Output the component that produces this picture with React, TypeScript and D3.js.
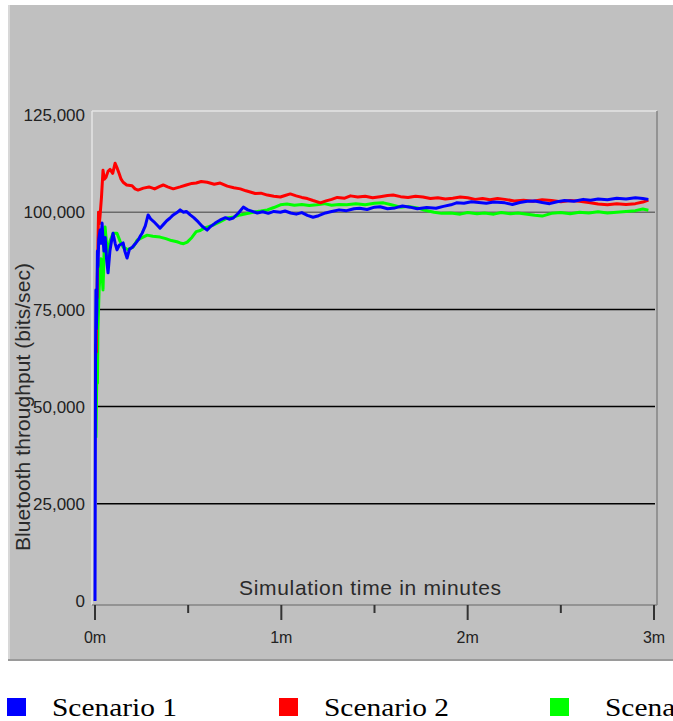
import React from 'react';
import * as d3 from 'd3';

// axis values
const yTicks = [0, 25000, 50000, 75000, 100000, 125000];
const xMajorTicks = [0, 1, 2, 3];
const xMinorTicks = [0.5, 1.5, 2.5];

const seriesNames = ['Scenario 1', 'Scenario 2', 'Scenario 3'];
const seriesColors = ['#0000ff', '#ff0000', '#00ff00'];

// [time in minutes, throughput in bits/sec]
const scenario1: [number, number][] = [
  [0, 0], [0.003, 65000], [0.005, 80000], [0.007, 70000], [0.01, 75000], [0.013, 90000],
  [0.016, 86000], [0.02, 93000], [0.027, 95400], [0.032, 92000], [0.038, 97200],
  [0.043, 93000], [0.048, 90000], [0.055, 93500], [0.062, 88000], [0.07, 84400],
  [0.08, 90000], [0.09, 93000], [0.097, 94600], [0.108, 92000], [0.118, 90300],
  [0.13, 91500], [0.151, 92100], [0.16, 90000], [0.172, 88200], [0.185, 90500],
  [0.199, 90900], [0.215, 91800], [0.231, 92800], [0.245, 94000], [0.253, 94600],
  [0.27, 96500], [0.285, 99300], [0.3, 98200], [0.315, 97600], [0.333, 96700],
  [0.349, 95900], [0.37, 97000], [0.385, 97800], [0.403, 98500], [0.42, 99300],
  [0.44, 99900], [0.457, 100600], [0.475, 100000], [0.49, 100200], [0.511, 99300],
  [0.53, 98600], [0.554, 97500], [0.575, 96400], [0.602, 95400], [0.62, 96300],
  [0.645, 97200], [0.672, 98000], [0.7, 98600], [0.72, 98200], [0.742, 98500],
  [0.77, 99800], [0.796, 101300], [0.82, 100600], [0.845, 100200], [0.871, 99800],
  [0.9, 100100], [0.93, 99700], [0.96, 100200], [0.995, 100000], [1.02, 100300],
  [1.05, 99800], [1.08, 99500], [1.11, 99900], [1.14, 99200], [1.17, 98700],
  [1.2, 99100], [1.237, 99800], [1.27, 100200], [1.31, 100600], [1.35, 100400],
  [1.39, 100900], [1.42, 101000], [1.46, 100700], [1.5, 101300], [1.53, 101400],
  [1.57, 100900], [1.61, 101100], [1.65, 101600], [1.69, 101300], [1.73, 100900],
  [1.78, 101200], [1.83, 101000], [1.87, 101500], [1.91, 101900], [1.94, 102400],
  [1.98, 102300], [2.02, 102700], [2.06, 102500], [2.1, 102300], [2.14, 102600],
  [2.2, 102400], [2.24, 102000], [2.28, 102500], [2.32, 102800], [2.36, 102900],
  [2.4, 102500], [2.44, 102200], [2.48, 102700], [2.52, 103000], [2.57, 102800],
  [2.62, 103300], [2.66, 103100], [2.7, 103400], [2.75, 103200], [2.8, 103600],
  [2.85, 103400], [2.9, 103700], [2.94, 103500], [2.97, 103300],
];

const scenario2: [number, number][] = [
  [0.003, 62000], [0.005, 66000], [0.007, 64000], [0.008, 80000], [0.011, 78000],
  [0.013, 84000], [0.016, 92000], [0.019, 100000], [0.023, 97000], [0.027, 99000],
  [0.035, 104000], [0.043, 110800], [0.05, 108500], [0.059, 109000], [0.07, 110500],
  [0.081, 111000], [0.095, 110000], [0.108, 112600], [0.12, 111200], [0.129, 110000],
  [0.14, 108500], [0.151, 107700], [0.17, 107000], [0.199, 106800], [0.215, 106000],
  [0.231, 105700], [0.26, 106200], [0.29, 106500], [0.32, 106000], [0.345, 106600],
  [0.366, 107000], [0.39, 106500], [0.42, 106000], [0.457, 106500], [0.49, 107000],
  [0.52, 107400], [0.543, 107500], [0.57, 107900], [0.602, 107700], [0.64, 107200],
  [0.672, 107500], [0.71, 106700], [0.745, 106300], [0.78, 106000], [0.81, 105500],
  [0.833, 105200], [0.86, 104800], [0.89, 104900], [0.925, 104400], [0.96, 104100],
  [0.995, 103900], [1.02, 104300], [1.048, 104700], [1.08, 104200], [1.11, 103800],
  [1.14, 103500], [1.17, 103000], [1.21, 102400], [1.24, 102900], [1.27, 103300],
  [1.3, 103800], [1.34, 103600], [1.371, 104200], [1.41, 103900], [1.45, 104100],
  [1.49, 103700], [1.53, 104000], [1.57, 104300], [1.6, 104400], [1.64, 104000],
  [1.68, 103800], [1.72, 104100], [1.76, 103900], [1.8, 103500], [1.84, 103700],
  [1.88, 103400], [1.92, 103600], [1.96, 103900], [2.0, 103700], [2.04, 103300],
  [2.08, 103500], [2.12, 103200], [2.16, 103500], [2.2, 103300], [2.25, 102900],
  [2.3, 103100], [2.35, 102800], [2.4, 103200], [2.45, 103000], [2.5, 102700],
  [2.55, 103000], [2.6, 102800], [2.65, 102500], [2.7, 102100], [2.75, 101900],
  [2.8, 102200], [2.85, 102000], [2.9, 102200], [2.94, 102600], [2.97, 103100],
];

const scenario3: [number, number][] = [
  [0.005, 42000], [0.008, 52000], [0.01, 58000], [0.013, 56000], [0.016, 70000],
  [0.022, 80000], [0.027, 84000], [0.032, 88000], [0.038, 84000], [0.043, 80000],
  [0.049, 90000], [0.054, 96200], [0.062, 92000], [0.07, 89000], [0.08, 92500],
  [0.097, 94600], [0.118, 94600], [0.135, 92500], [0.151, 91000], [0.175, 90400],
  [0.204, 91000], [0.226, 92800], [0.25, 93400], [0.28, 94100], [0.31, 93800],
  [0.349, 93600], [0.38, 93200], [0.41, 92700], [0.44, 92400], [0.457, 92100],
  [0.475, 91900], [0.495, 92300], [0.52, 93500], [0.543, 95000], [0.565, 95300],
  [0.586, 95900], [0.61, 96300], [0.634, 96700], [0.67, 97500], [0.71, 98500],
  [0.745, 98800], [0.78, 99300], [0.81, 99600], [0.849, 100000], [0.89, 100300],
  [0.925, 100600], [0.96, 101200], [0.995, 101900], [1.03, 102100], [1.07, 101800],
  [1.11, 102000], [1.15, 101700], [1.19, 101900], [1.23, 102200], [1.27, 101800],
  [1.31, 102000], [1.35, 101900], [1.4, 102200], [1.45, 101900], [1.5, 102300],
  [1.548, 102400], [1.59, 101900], [1.64, 101300], [1.68, 101500], [1.73, 101100],
  [1.77, 100500], [1.82, 100000], [1.86, 99700], [1.91, 99800], [1.96, 99500],
  [2.0, 99900], [2.05, 99600], [2.09, 99800], [2.14, 99500], [2.18, 99900],
  [2.23, 99600], [2.27, 99800], [2.32, 99500], [2.36, 99200], [2.4, 99000],
  [2.45, 99700], [2.5, 99900], [2.55, 99600], [2.6, 100000], [2.65, 99800],
  [2.7, 100100], [2.75, 99800], [2.8, 100000], [2.85, 100200], [2.9, 100400],
  [2.94, 100800], [2.97, 100500],
];

const seriesData = [scenario1, scenario2, scenario3];

const W = 673;
const H = 721;

// legend layout (square x, label x)
const legendSquareX = [7, 279, 550];
const legendTextX = [52, 324, 605];

const App: React.FC = () => {
  const x = d3.scaleLinear().domain([0, 3]).range([95, 654]);
  const y = d3.scaleLinear().domain([0, 125000]).range([601, 115]);
  const line = d3.line<[number, number]>()
    .x(d => x(d[0]))
    .y(d => y(d[1]));
  const fmt = d3.format(',');

  // plot frame
  const left = 92, right = 657, top = 111, bottom = 605;

  // draw order: green under red under blue
  const order = [2, 1, 0];

  return (
    <svg
      width={W}
      height={H}
      style={{ position: 'absolute', left: 0, top: 0, background: '#fff' }}
      fontFamily="Liberation Sans, Arial, sans-serif"
    >
      {/* outer panel */}
      <rect x={8} y={5} width={W - 8} height={655} fill="#c0c0c0" />
      <line x1={9} x2={9} y1={5} y2={660} stroke="#d8d8d8" strokeWidth={2} />
      <line x1={8} x2={W} y1={660} y2={660} stroke="#9a9a9a" strokeWidth={2} />

      {/* plot frame */}
      <line x1={left} x2={right} y1={top} y2={top} stroke="#e4e4e4" strokeWidth={1.5} />
      <line x1={left} x2={left} y1={top} y2={bottom} stroke="#e4e4e4" strokeWidth={1.5} />
      <line x1={right} x2={right} y1={top} y2={bottom} stroke="#858585" strokeWidth={1.5} />
      <line x1={left} x2={right} y1={bottom} y2={bottom} stroke="#858585" strokeWidth={1.5} />

      {/* gridlines */}
      {yTicks.filter(v => v > 0 && v < 125000).map(v => (
        <line
          key={v}
          x1={97}
          x2={655}
          y1={y(v)}
          y2={y(v)}
          stroke={v === 100000 ? '#6a6a6a' : '#000'}
          strokeWidth={1.5}
        />
      ))}

      {/* y tick labels */}
      {yTicks.map(v => (
        <text
          key={v}
          x={85}
          y={y(v)}
          dy="0.36em"
          textAnchor="end"
          fontSize={17}
          fill="#222"
        >
          {fmt(v)}
        </text>
      ))}

      {/* x ticks */}
      {xMajorTicks.map(t => (
        <g key={t}>
          <line x1={x(t)} x2={x(t)} y1={bottom} y2={620} stroke="#333" strokeWidth={2} />
          <text x={x(t)} y={643} textAnchor="middle" fontSize={16} fill="#222">{`${t}m`}</text>
        </g>
      ))}
      {xMinorTicks.map(t => (
        <line key={t} x1={x(t)} x2={x(t)} y1={bottom} y2={613} stroke="#333" strokeWidth={2} />
      ))}

      {/* axis titles */}
      <text x={370} y={595} textAnchor="middle" fontSize={21} fill="#2a2a2a" textLength={262}>
        Simulation time in minutes
      </text>
      <text
        transform="translate(30,407) rotate(-90)"
        textAnchor="middle"
        fontSize={21}
        fill="#2a2a2a"
        textLength={288}
      >
        Bluetooth throughput (bits/sec)
      </text>

      {/* series */}
      {order.map(i => (
        <path
          key={i}
          d={line(seriesData[i]) || ''}
          fill="none"
          stroke={seriesColors[i]}
          strokeWidth={3}
          strokeLinejoin="round"
        />
      ))}

      {/* legend */}
      {seriesNames.map((name, i) => (
        <g key={name}>
          <rect x={legendSquareX[i]} y={698} width={19} height={18} fill={seriesColors[i]} />
          <text
            x={legendTextX[i]}
            y={716}
            fontFamily="Liberation Serif, Times New Roman, serif"
            fontSize={25}
            fill="#000"
            textLength={125}
            lengthAdjust="spacingAndGlyphs"
          >
            {name}
          </text>
        </g>
      ))}
    </svg>
  );
};

export default App;
